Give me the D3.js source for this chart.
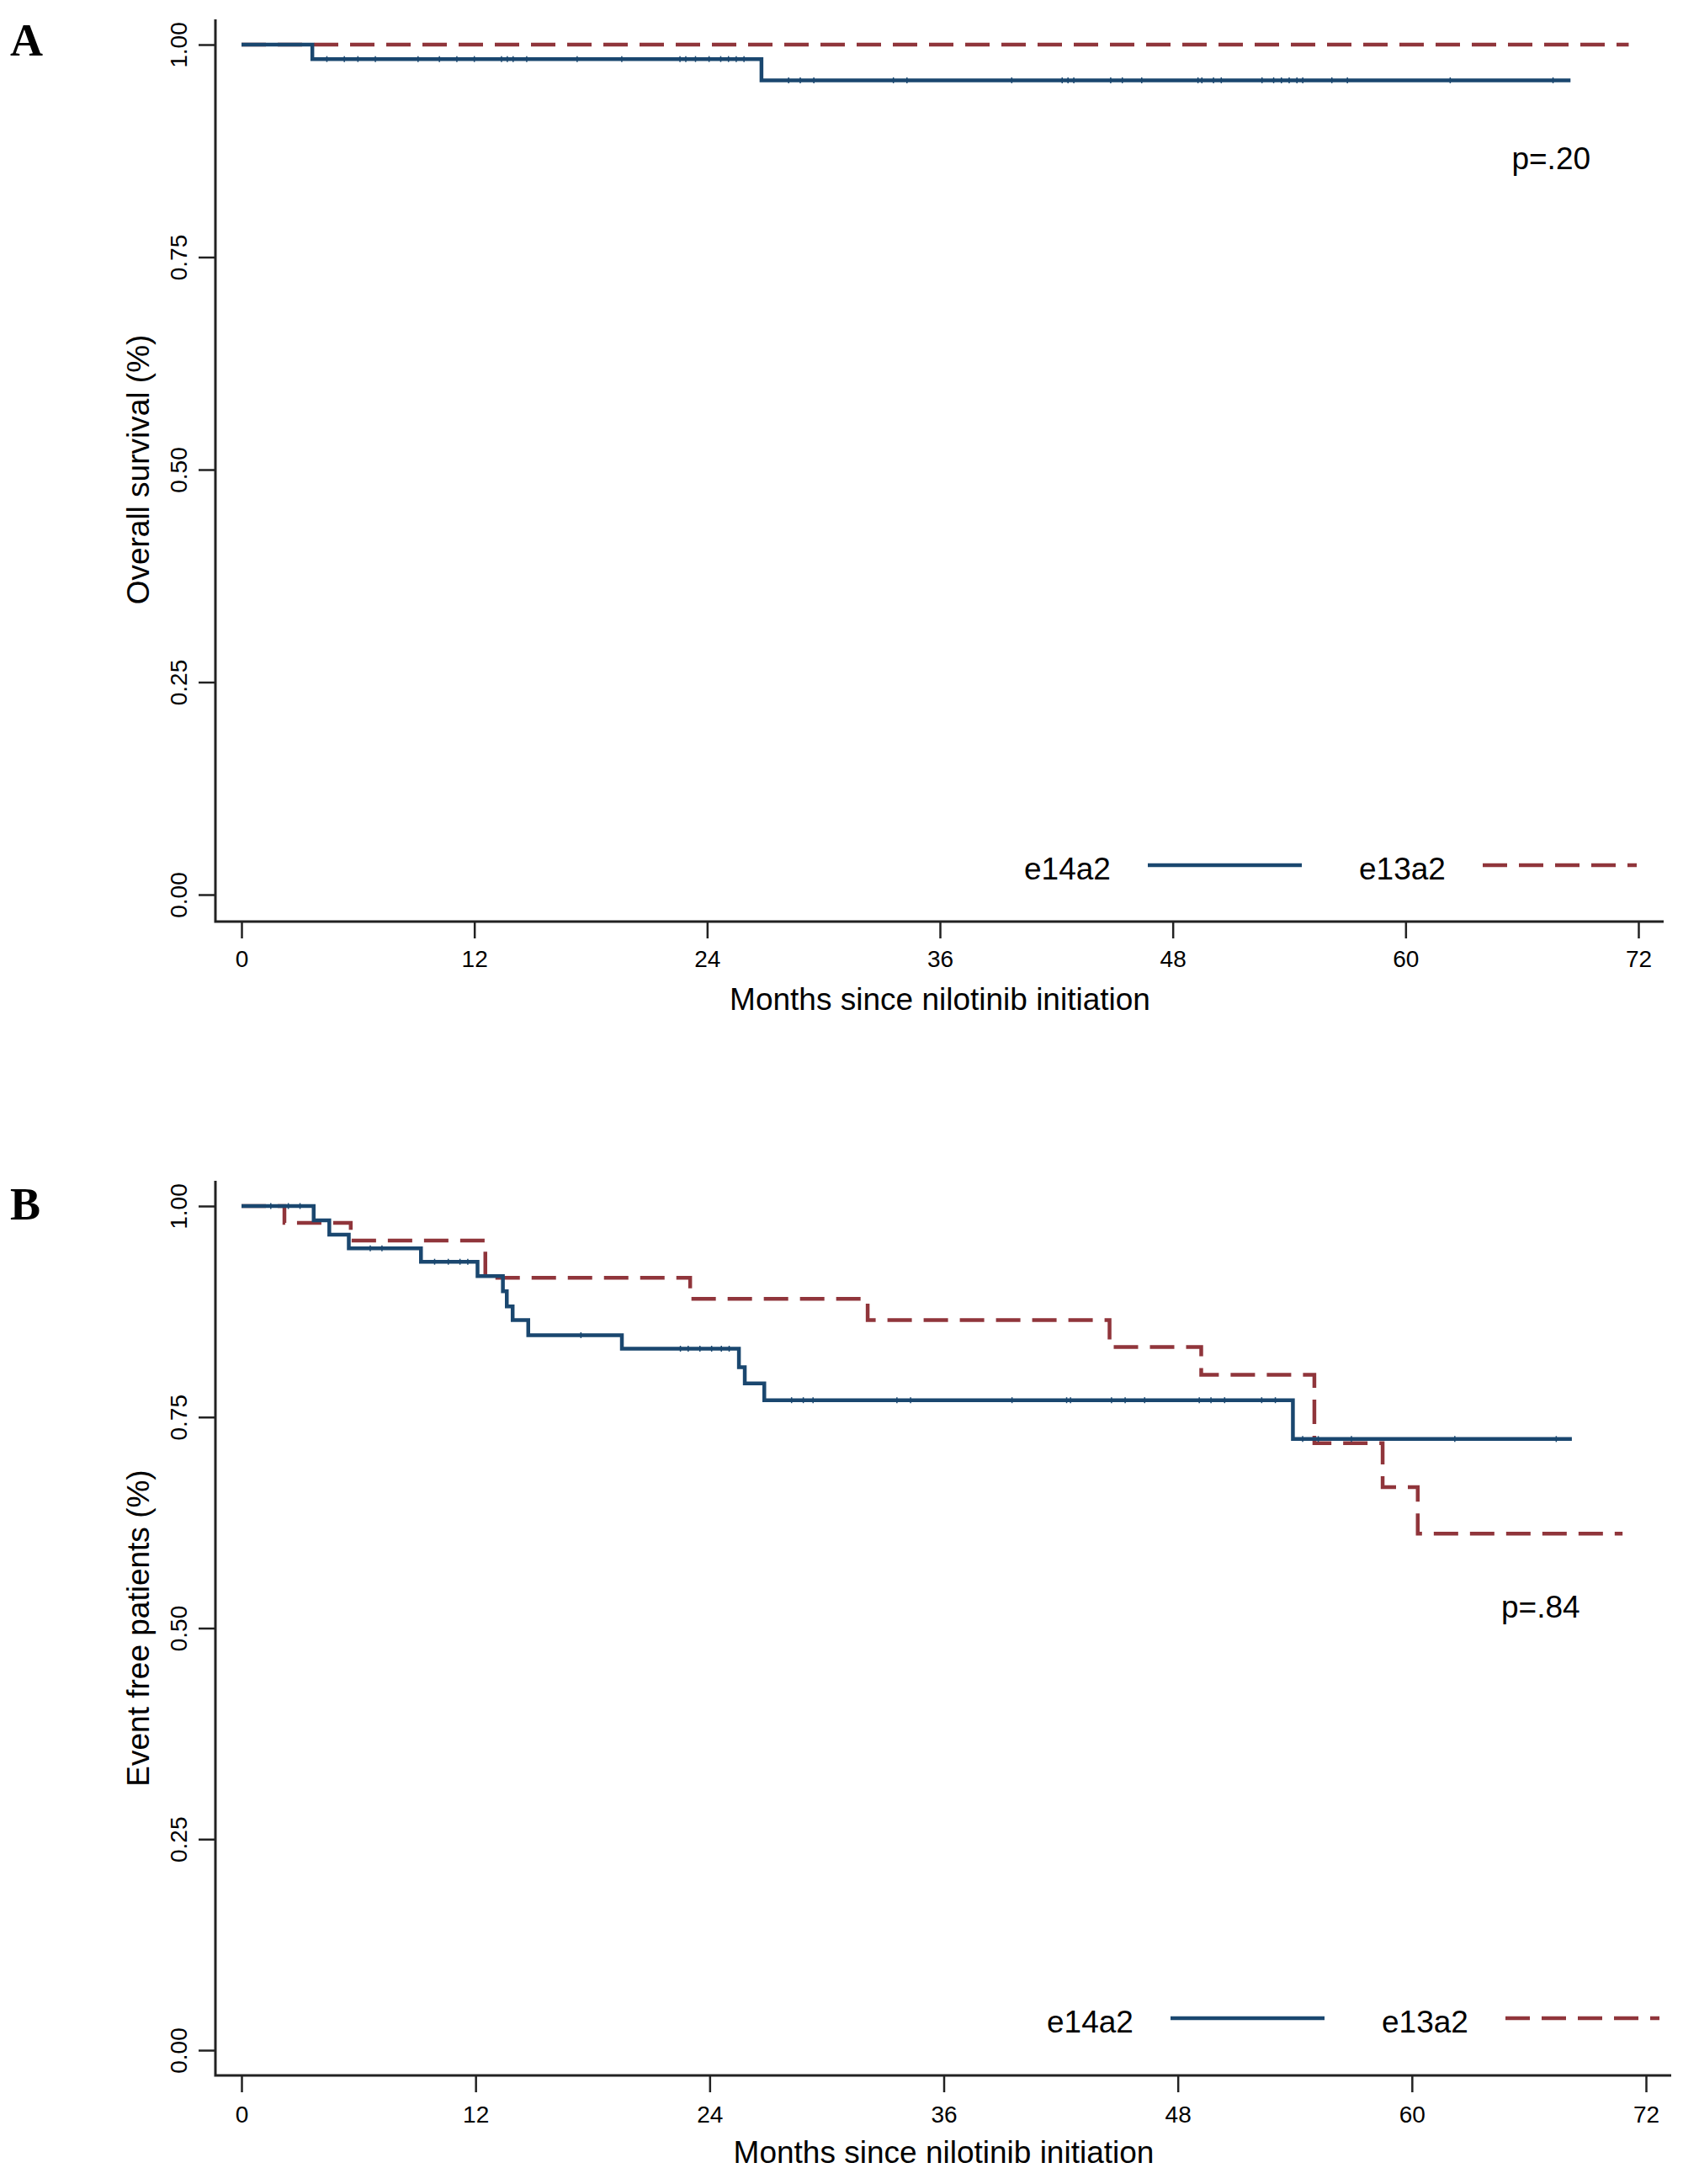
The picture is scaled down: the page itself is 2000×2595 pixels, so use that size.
<!DOCTYPE html>
<html>
<head>
<meta charset="utf-8">
<script src="https://cdn.jsdelivr.net/npm/d3@7"></script>
<style>
  body { margin: 0; background: #fff; }
  text { font-family: "Liberation Sans", Arial, sans-serif; fill: #000; }
  .panelLetter { font-family: "Liberation Serif", "Times New Roman", serif; font-weight: bold; font-size: 54px; }
  .tickLabel { font-size: 28px; }
  .axisTitle { font-size: 37px; }
</style>
</head>
<body>
<svg id="chart" width="2000" height="2595"></svg>
<script>
// ---- data ----
const monthTicks = [0, 12, 24, 36, 48, 60, 72];
const probTicks = [0, 0.25, 0.5, 0.75, 1];
const groups = ['e14a2', 'e13a2'];

// panel A: overall survival
const osE14a2Time = [0, 3.65, 26.8, 68.5];
const osE14a2Surv = [1, 0.983, 0.958, 0.958];
const osE14a2Censor = [4.4, 5.3, 6.0, 6.9, 9.1, 10.2, 11.1, 12.0, 13.4, 13.7, 14.0, 14.7, 17.3, 19.6,
    22.6, 22.9, 23.4, 24.1, 24.7, 25.1, 25.5, 25.9, 28.2, 28.8, 29.5, 33.6, 34.3, 39.7, 42.3, 42.6,
    42.9, 44.8, 45.4, 46.4, 49.3, 49.5, 50.1, 50.5, 52.6, 53.2, 53.6, 54.0, 54.4, 54.7, 56.2, 57.0,
    62.3, 67.6];
const osE13a2Time = [0, 71.5];
const osE13a2Surv = [1, 1];

// panel B: event free
const efE14a2Time = [0, 3.7, 4.5, 5.5, 9.2, 12.1, 13.4, 13.6, 13.9, 14.7, 19.5, 25.5, 25.8, 26.8, 53.9, 68.2];
const efE14a2Surv = [1, 0.983, 0.966, 0.950, 0.934, 0.917, 0.899, 0.881, 0.865, 0.847, 0.831, 0.809, 0.790, 0.770, 0.724, 0.724];
const efE14a2Censor = [1.5, 2.4, 3.0, 6.6, 7.2, 9.9, 10.6, 11.2, 11.6, 17.4, 22.5, 22.9, 23.5, 24.1,
    24.6, 25.0, 28.2, 28.8, 29.3, 33.6, 34.3, 39.5, 42.3, 42.5, 44.6, 45.3, 46.3, 49.1, 49.7, 50.4,
    52.3, 53.0, 54.4, 55.2, 56.9, 62.2, 67.4];
const efE13a2Time = [0, 2.2, 5.6, 12.5, 23.0, 32.1, 44.5, 49.2, 55.0, 58.5, 60.3, 70.8];
const efE13a2Surv = [1, 0.980, 0.959, 0.915, 0.890, 0.865, 0.833, 0.800, 0.719, 0.667, 0.612, 0.612];

const pValues = ['p=.20', 'p=.84'];
const yTitles = ['Overall survival (%)', 'Event free patients (%)'];
const xTitle = 'Months since nilotinib initiation';

const navy = '#1a476f';
const maroon = '#90353b';

let svg = d3.select('#chart');
svg.append('rect').attr('width', 2000).attr('height', 2595).attr('fill', '#fff');

function stepAt(times, surv, t) {
    let v = surv[0];
    for (let i = 0; i < times.length; i++) {
        if (times[i] <= t) v = surv[i];
    }
    return v;
}

function drawPanel(p) {
    let x = d3.scaleLinear().domain([0, 72]).range([287, p.x72]);
    let y = d3.scaleLinear().domain([0, 1]).range([p.y0, p.y1]);
    let g = svg.append('g');

    g.append('text').attr('class', 'panelLetter')
        .attr('x', 12).attr('y', p.letterY).text(p.letter);

    // y axis
    let yAxis = g.append('g').attr('transform', 'translate(256,0)')
        .call(d3.axisLeft(y).tickValues(probTicks).tickFormat(d3.format('.2f')).tickSize(20).tickSizeOuter(0));
    yAxis.select('.domain').remove();
    yAxis.selectAll('line').attr('stroke', '#222').attr('stroke-width', 2.5);
    yAxis.selectAll('text')
        .attr('class', 'tickLabel')
        .attr('x', null).attr('dy', null)
        .attr('transform', 'translate(-34,0) rotate(-90)')
        .attr('text-anchor', 'middle');
    yAxis.attr('font-size', null).attr('font-family', null);

    // x axis
    let xAxis = g.append('g').attr('transform', 'translate(0,' + p.axisY + ')')
        .call(d3.axisBottom(x).tickValues(monthTicks).tickSize(20).tickSizeOuter(0));
    xAxis.select('.domain').remove();
    xAxis.selectAll('line').attr('stroke', '#222').attr('stroke-width', 2.5);
    xAxis.selectAll('text')
        .attr('class', 'tickLabel')
        .attr('y', p.tickLabelDy).attr('dy', null);
    xAxis.attr('font-size', null).attr('font-family', null);

    // axis lines
    g.append('path')
        .attr('d', 'M256,' + p.axisTop + 'V' + p.axisY + 'H' + p.axisRight)
        .attr('fill', 'none').attr('stroke', '#222').attr('stroke-width', 3);

    g.append('text').attr('class', 'axisTitle')
        .attr('transform', 'translate(177,' + y(0.5) + ') rotate(-90)')
        .attr('text-anchor', 'middle').text(p.yTitle);
    g.append('text').attr('class', 'axisTitle')
        .attr('x', x(36)).attr('y', p.xTitleY)
        .attr('text-anchor', 'middle').text(xTitle);

    let line = d3.line().curve(d3.curveStepAfter)
        .x(d => x(d[0])).y(d => y(d[1]));

    // e13a2 dashed
    g.append('path')
        .datum(d3.zip(p.e13Time, p.e13Surv))
        .attr('d', line)
        .attr('fill', 'none').attr('stroke', maroon)
        .attr('stroke-width', 4.5).attr('stroke-dasharray', '29,14');

    g.append('path')
        .datum(d3.zip(p.e14Time, p.e14Surv))
        .attr('d', line)
        .attr('fill', 'none').attr('stroke', navy)
        .attr('stroke-width', 4.5);

    // censoring ticks, barely sticking out of the line
    g.selectAll('.censor')
        .data(p.e14Censor)
        .join('line')
        .attr('class', 'censor')
        .attr('x1', d => x(d)).attr('x2', d => x(d))
        .attr('y1', d => y(stepAt(p.e14Time, p.e14Surv, d)) - 3.5)
        .attr('y2', d => y(stepAt(p.e14Time, p.e14Surv, d)) + 3.5)
        .attr('stroke', navy).attr('stroke-width', 1.5);

    g.append('text').attr('class', 'axisTitle')
        .attr('x', x(p.pAt[0])).attr('y', y(p.pAt[1]))
        .attr('text-anchor', 'middle').text(p.pText);

    // legend
    let lg = g.append('g').attr('transform', 'translate(' + p.legendX + ',' + p.legendY + ')');
    let swatches = [{ stroke: navy, dash: null }, { stroke: maroon, dash: '29,14' }];
    groups.forEach((name, i) => {
        let ox = i * 398;
        lg.append('text').attr('class', 'axisTitle')
            .attr('x', ox).attr('y', 17).text(name);
        lg.append('line')
            .attr('x1', ox + 147).attr('x2', ox + 330)
            .attr('y1', 0).attr('y2', 0)
            .attr('stroke', swatches[i].stroke).attr('stroke-width', 4.5)
            .attr('stroke-dasharray', swatches[i].dash);
    });
}

drawPanel({
    letter: 'A', letterY: 66,
    x72: 1947, y0: 1063, y1: 53,
    axisTop: 23, axisY: 1095, axisRight: 1977,
    tickLabelDy: 54, xTitleY: 1200,
    yTitle: yTitles[0], pText: pValues[0], pAt: [67.5, 0.853],
    e14Time: osE14a2Time, e14Surv: osE14a2Surv, e14Censor: osE14a2Censor,
    e13Time: osE13a2Time, e13Surv: osE13a2Surv,
    legendX: 1217, legendY: 1028
});

drawPanel({
    letter: 'B', letterY: 1449,
    x72: 1956, y0: 2436, y1: 1433,
    axisTop: 1403, axisY: 2466, axisRight: 1986,
    tickLabelDy: 56, xTitleY: 2570,
    yTitle: yTitles[1], pText: pValues[1], pAt: [66.6, 0.512],
    e14Time: efE14a2Time, e14Surv: efE14a2Surv, e14Censor: efE14a2Censor,
    e13Time: efE13a2Time, e13Surv: efE13a2Surv,
    legendX: 1244, legendY: 2398
});
</script>
</body>
</html>
